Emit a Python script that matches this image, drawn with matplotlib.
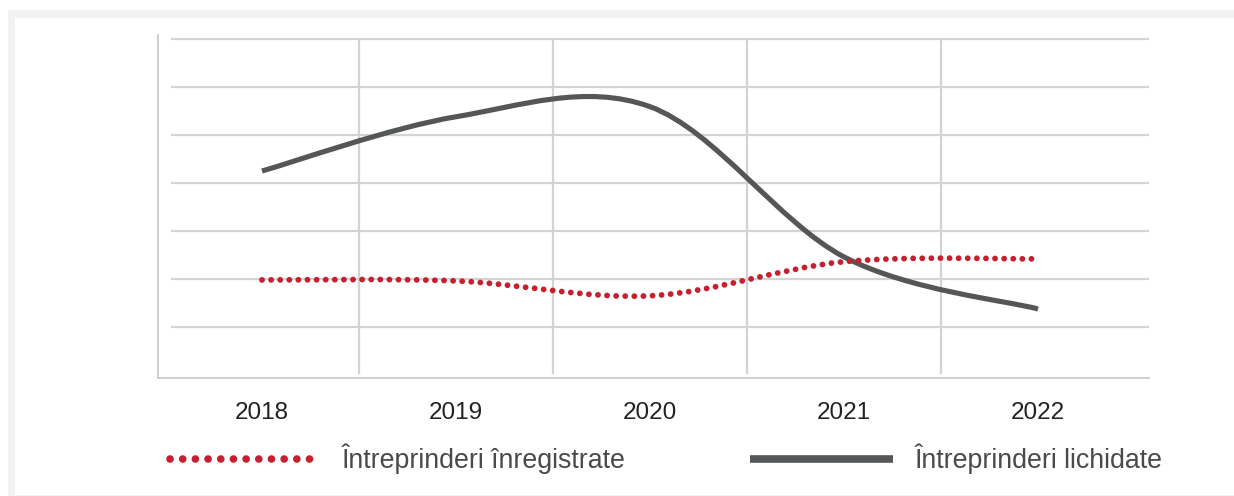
import matplotlib
matplotlib.use("Agg")
import matplotlib.pyplot as plt
from matplotlib.path import Path
from matplotlib.patches import PathPatch, Rectangle
from matplotlib.lines import Line2D

years = ["2018", "2019", "2020", "2021", "2022"]
inregistrate = [1.98, 1.96, 1.65, 2.36, 2.42]
lichidate = [4.25, 5.38, 5.59, 2.46, 1.375]
labels = ["Întreprinderi înregistrate", "Întreprinderi lichidate"]

RED = "#c61f2d"
DARK = "#555658"
GRID = "#d2d3d5"

plt.rcParams["font.family"] = ["Liberation Sans", "DejaVu Sans"]


def smooth_path(xs, ys):
    # Catmull-Rom curve through the points, written as cubic Bezier segments
    pts = list(zip(xs, ys))
    verts = [pts[0]]
    codes = [Path.MOVETO]
    n = len(pts)
    for i in range(n - 1):
        p0 = pts[i - 1] if i > 0 else pts[i]
        p1 = pts[i]
        p2 = pts[i + 1]
        p3 = pts[i + 2] if i + 2 < n else pts[i + 1]
        c1 = (p1[0] + (p2[0] - p0[0]) / 6, p1[1] + (p2[1] - p0[1]) / 6)
        c2 = (p2[0] - (p3[0] - p1[0]) / 6, p2[1] - (p3[1] - p1[1]) / 6)
        verts += [c1, c2, p2]
        codes += [Path.CURVE4] * 3
    return Path(verts, codes)


fig = plt.figure(figsize=(12.34, 4.96), dpi=100)
fig.patch.set_facecolor("white")

# light grey frame round the chart
fig.add_artist(Rectangle((8 / 1234, 0), 1.0, 486 / 496, transform=fig.transFigure,
                         facecolor="#f1f2f4", edgecolor="none", zorder=-2))
fig.add_artist(Rectangle((15 / 1234, 1 / 496), 1.0, 477 / 496, transform=fig.transFigure,
                         facecolor="white", edgecolor="none", zorder=-1))

ax = fig.add_axes([158 / 1234, 1 - 378 / 496, 991 / 1234, 343 / 496])
ax.set_facecolor("none")
x = list(range(len(years)))
ax.set_xlim(-0.536, 4.572)
ax.set_ylim(-0.0625, 7.083)

for s in ["top", "right"]:
    ax.spines[s].set_visible(False)
for s in ["left", "bottom"]:
    ax.spines[s].set_color("#c9cacc")
    ax.spines[s].set_linewidth(1.3)

ax.hlines(range(1, 8), -0.469, 4.572, color=GRID, lw=1.6, zorder=1)
ax.vlines([0.5, 1.5, 2.5, 3.5], 0.02, 7, color=GRID, lw=1.6, zorder=1)

ax.add_patch(PathPatch(smooth_path(x, lichidate), fill=False, edgecolor=DARK,
                       lw=3.7, capstyle="butt", zorder=3))
ax.add_patch(PathPatch(smooth_path(x, inregistrate), fill=False, edgecolor=RED,
                       lw=4.2, linestyle=(0, (0.01, 1.55)), capstyle="round", zorder=4))

ax.set_xticks(x)
ax.set_xticklabels(years, fontsize=17.5, color="#222222")
ax.set_yticks([])
ax.tick_params(axis="x", length=0, pad=17)

h1 = Line2D([], [], color=RED, lw=5.5, linestyle=(0, (0.01, 1.65)), dash_capstyle="round")
h2 = Line2D([], [], color=DARK, lw=5.5, solid_capstyle="butt")
leg1 = fig.legend(handles=[h1], labels=[labels[0]], loc="center left",
                  bbox_to_anchor=(170 / 1234, 1 - 459 / 496), frameon=False,
                  fontsize=19.3, handlelength=5.45, handletextpad=0.95,
                  labelcolor="#4a4a4c", borderaxespad=0, borderpad=0)
leg2 = fig.legend(handles=[h2], labels=[labels[1]], loc="center left",
                  bbox_to_anchor=(750 / 1234, 1 - 459 / 496), frameon=False,
                  fontsize=19.3, handlelength=5.35, handletextpad=0.8,
                  labelcolor="#4a4a4c", borderaxespad=0, borderpad=0)

fig.savefig("out.png", dpi=100, facecolor="white")
